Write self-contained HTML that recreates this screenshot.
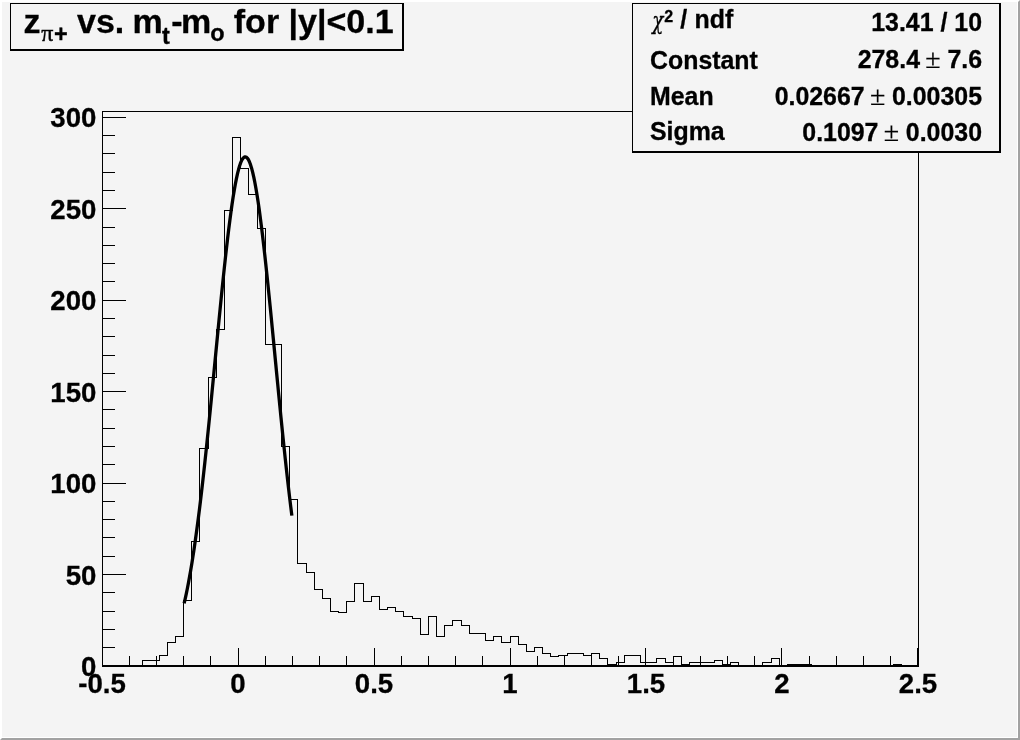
<!DOCTYPE html>
<html lang="en">
<head>
<meta charset="utf-8">
<title>z pi+ vs. mt-mo for |y|&lt;0.1</title>
<style>
html,body{margin:0;padding:0;background:#f4f4f4;}
body{width:1020px;height:740px;overflow:hidden;position:relative;}
#canvas{position:absolute;left:0;top:0;width:1020px;height:740px;box-sizing:border-box;background:#f4f4f4;
 border-top:2px solid #fff;border-left:2px solid #fff;border-right:2px solid #a2a2a2;border-bottom:2px solid #a2a2a2;}
#hl-r{position:absolute;left:1017px;top:2px;width:1px;height:736px;background:#fff;}
#hl-b{position:absolute;left:2px;top:737px;width:1016px;height:1px;background:#fff;}
svg{position:absolute;left:0;top:0;}
text{font-family:"Liberation Sans",sans-serif;font-weight:bold;fill:#000;stroke:#000;stroke-width:0.3px;}
.sym{font-family:"Liberation Serif","DejaVu Serif",serif;font-weight:normal;stroke-width:0.2px;}
</style>
</head>
<body>
<div id="canvas"></div><div id="hl-r"></div><div id="hl-b"></div>
<svg width="1020" height="740" viewBox="0 0 1020 740">
<!-- title box -->
<g shape-rendering="crispEdges" fill="#000">
<rect x="10" y="3" width="394" height="1"/><rect x="10" y="3" width="1" height="48"/>
<rect x="402" y="3" width="2" height="48"/><rect x="10" y="49" width="394" height="2"/>
<!-- frame -->
<rect x="102" y="111" width="817" height="1"/>
<rect x="102" y="111" width="1" height="556"/>
<rect x="918" y="111" width="1" height="556"/>
<rect x="102" y="665" width="817" height="2"/>
<rect x="129" y="656" width="1" height="9"/><rect x="156" y="656" width="1" height="9"/><rect x="183" y="656" width="1" height="9"/><rect x="210" y="656" width="1" height="9"/><rect x="238" y="648" width="1" height="17"/><rect x="265" y="656" width="1" height="9"/><rect x="292" y="656" width="1" height="9"/><rect x="319" y="656" width="1" height="9"/><rect x="346" y="656" width="1" height="9"/><rect x="374" y="648" width="1" height="17"/><rect x="401" y="656" width="1" height="9"/><rect x="428" y="656" width="1" height="9"/><rect x="455" y="656" width="1" height="9"/><rect x="482" y="656" width="1" height="9"/><rect x="510" y="648" width="1" height="17"/><rect x="537" y="656" width="1" height="9"/><rect x="564" y="656" width="1" height="9"/><rect x="591" y="656" width="1" height="9"/><rect x="618" y="656" width="1" height="9"/><rect x="645" y="648" width="1" height="17"/><rect x="673" y="656" width="1" height="9"/><rect x="700" y="656" width="1" height="9"/><rect x="727" y="656" width="1" height="9"/><rect x="754" y="656" width="1" height="9"/><rect x="781" y="648" width="1" height="17"/><rect x="809" y="656" width="1" height="9"/><rect x="836" y="656" width="1" height="9"/><rect x="863" y="656" width="1" height="9"/><rect x="890" y="656" width="1" height="9"/><rect x="917" y="648" width="1" height="17"/><rect x="103" y="647" width="12" height="1"/><rect x="103" y="629" width="12" height="1"/><rect x="103" y="611" width="12" height="1"/><rect x="103" y="592" width="12" height="1"/><rect x="103" y="574" width="23" height="1"/><rect x="103" y="556" width="12" height="1"/><rect x="103" y="537" width="12" height="1"/><rect x="103" y="519" width="12" height="1"/><rect x="103" y="501" width="12" height="1"/><rect x="103" y="483" width="23" height="1"/><rect x="103" y="464" width="12" height="1"/><rect x="103" y="446" width="12" height="1"/><rect x="103" y="428" width="12" height="1"/><rect x="103" y="409" width="12" height="1"/><rect x="103" y="391" width="23" height="1"/><rect x="103" y="373" width="12" height="1"/><rect x="103" y="355" width="12" height="1"/><rect x="103" y="336" width="12" height="1"/><rect x="103" y="318" width="12" height="1"/><rect x="103" y="300" width="23" height="1"/><rect x="103" y="281" width="12" height="1"/><rect x="103" y="263" width="12" height="1"/><rect x="103" y="245" width="12" height="1"/><rect x="103" y="227" width="12" height="1"/><rect x="103" y="208" width="23" height="1"/><rect x="103" y="190" width="12" height="1"/><rect x="103" y="172" width="12" height="1"/><rect x="103" y="153" width="12" height="1"/><rect x="103" y="135" width="12" height="1"/><rect x="103" y="117" width="23" height="1"/>
</g>
<path d="M102.00,666.00 L102.00,666.00 L110.16,666.00 L110.16,666.00 L118.32,666.00 L118.32,666.00 L126.48,666.00 L126.48,666.00 L134.64,666.00 L134.64,666.00 L142.80,666.00 L142.80,660.51 L150.96,660.51 L150.96,660.51 L159.12,660.51 L159.12,655.03 L167.28,655.03 L167.28,642.22 L175.44,642.22 L175.44,636.74 L183.60,636.74 L183.60,600.16 L191.76,600.16 L191.76,541.63 L199.92,541.63 L199.92,448.35 L208.08,448.35 L208.08,377.02 L216.24,377.02 L216.24,329.47 L224.40,329.47 L224.40,210.59 L232.56,210.59 L232.56,137.43 L240.72,137.43 L240.72,168.52 L248.88,168.52 L248.88,194.13 L257.04,194.13 L257.04,228.88 L265.20,228.88 L265.20,344.10 L273.36,344.10 L273.36,344.10 L281.52,344.10 L281.52,446.52 L289.68,446.52 L289.68,499.56 L297.84,499.56 L297.84,563.58 L306.00,563.58 L306.00,572.72 L314.16,572.72 L314.16,589.18 L322.32,589.18 L322.32,598.33 L330.48,598.33 L330.48,611.13 L338.64,611.13 L338.64,612.96 L346.80,612.96 L346.80,601.99 L354.96,601.99 L354.96,583.70 L363.12,583.70 L363.12,601.99 L371.28,601.99 L371.28,596.50 L379.44,596.50 L379.44,609.30 L387.60,609.30 L387.60,607.47 L395.76,607.47 L395.76,611.13 L403.92,611.13 L403.92,616.62 L412.08,616.62 L412.08,618.45 L420.24,618.45 L420.24,634.91 L428.40,634.91 L428.40,616.62 L436.56,616.62 L436.56,636.74 L444.72,636.74 L444.72,625.76 L452.88,625.76 L452.88,620.28 L461.04,620.28 L461.04,625.76 L469.20,625.76 L469.20,633.08 L477.36,633.08 L477.36,633.08 L485.52,633.08 L485.52,640.39 L493.68,640.39 L493.68,636.74 L501.84,636.74 L501.84,642.22 L510.00,642.22 L510.00,636.74 L518.16,636.74 L518.16,644.05 L526.32,644.05 L526.32,651.37 L534.48,651.37 L534.48,647.71 L542.64,647.71 L542.64,653.20 L550.80,653.20 L550.80,656.86 L558.96,656.86 L558.96,655.03 L567.12,655.03 L567.12,653.20 L575.28,653.20 L575.28,653.20 L583.44,653.20 L583.44,655.03 L591.60,655.03 L591.60,653.20 L599.76,653.20 L599.76,658.68 L607.92,658.68 L607.92,664.17 L616.08,664.17 L616.08,662.34 L624.24,662.34 L624.24,655.03 L632.40,655.03 L632.40,655.03 L640.56,655.03 L640.56,662.34 L648.72,662.34 L648.72,662.34 L656.88,662.34 L656.88,658.68 L665.04,658.68 L665.04,662.34 L673.20,662.34 L673.20,656.86 L681.36,656.86 L681.36,664.17 L689.52,664.17 L689.52,662.34 L697.68,662.34 L697.68,662.34 L705.84,662.34 L705.84,662.34 L714.00,662.34 L714.00,660.51 L722.16,660.51 L722.16,664.17 L730.32,664.17 L730.32,662.34 L738.48,662.34 L738.48,666.00 L746.64,666.00 L746.64,666.00 L754.80,666.00 L754.80,666.00 L762.96,666.00 L762.96,662.34 L771.12,662.34 L771.12,658.68 L779.28,658.68 L779.28,666.00 L787.44,666.00 L787.44,664.17 L795.60,664.17 L795.60,664.17 L803.76,664.17 L803.76,664.17 L811.92,664.17 L811.92,666.00 L820.08,666.00 L820.08,666.00 L828.24,666.00 L828.24,666.00 L836.40,666.00 L836.40,666.00 L844.56,666.00 L844.56,666.00 L852.72,666.00 L852.72,666.00 L860.88,666.00 L860.88,666.00 L869.04,666.00 L869.04,666.00 L877.20,666.00 L877.20,666.00 L885.36,666.00 L885.36,666.00 L893.52,666.00 L893.52,664.17 L901.68,664.17 L901.68,666.00 L909.84,666.00 L909.84,666.00 L918.00,666.00 L918.00,666.00" fill="none" stroke="#000" stroke-width="1" shape-rendering="crispEdges"/>
<g shape-rendering="crispEdges" fill="#000">
<!-- stats box -->
<rect x="632" y="3" width="369" height="150" fill="#f4f4f4"/>
<rect x="632" y="3" width="369" height="1"/><rect x="632" y="3" width="1" height="150"/>
<rect x="999" y="3" width="2" height="150"/><rect x="632" y="151" width="369" height="2"/>
</g>
<path d="M184.14,603.47 L185.23,598.67 L186.32,593.60 L187.41,588.24 L188.50,582.60 L189.58,576.67 L190.67,570.44 L191.76,563.92 L192.85,557.10 L193.94,549.97 L195.02,542.54 L196.11,534.82 L197.20,526.79 L198.29,518.47 L199.38,509.86 L200.46,500.96 L201.55,491.79 L202.64,482.36 L203.73,472.67 L204.82,462.74 L205.90,452.59 L206.99,442.22 L208.08,431.67 L209.17,420.94 L210.26,410.06 L211.34,399.06 L212.43,387.95 L213.52,376.76 L214.61,365.52 L215.70,354.26 L216.78,343.01 L217.87,331.80 L218.96,320.66 L220.05,309.62 L221.14,298.71 L222.22,287.98 L223.31,277.45 L224.40,267.15 L225.49,257.13 L226.58,247.41 L227.66,238.03 L228.75,229.03 L229.84,220.42 L230.93,212.25 L232.02,204.54 L233.10,197.33 L234.19,190.63 L235.28,184.48 L236.37,178.90 L237.46,173.91 L238.54,169.53 L239.63,165.77 L240.72,162.66 L241.81,160.20 L242.90,158.40 L243.98,157.28 L245.07,156.83 L246.16,157.05 L247.25,157.95 L248.34,159.52 L249.42,161.76 L250.51,164.66 L251.60,168.20 L252.69,172.37 L253.78,177.16 L254.86,182.55 L255.95,188.51 L257.04,195.03 L258.13,202.07 L259.22,209.61 L260.30,217.63 L261.39,226.10 L262.48,234.97 L263.57,244.23 L264.66,253.84 L265.74,263.76 L266.83,273.97 L267.92,284.43 L269.01,295.10 L270.10,305.95 L271.18,316.95 L272.27,328.06 L273.36,339.25 L274.45,350.49 L275.54,361.75 L276.62,373.00 L277.71,384.21 L278.80,395.35 L279.89,406.39 L280.98,417.31 L282.06,428.09 L283.15,438.71 L284.24,449.14 L285.33,459.37 L286.42,469.37 L287.50,479.14 L288.59,488.66 L289.68,497.92 L290.77,506.91 L291.86,515.62" fill="none" stroke="#000" stroke-width="3.3" stroke-linejoin="round" stroke-linecap="butt"/>
<g font-size="27.6"><text x="102.0" y="693" text-anchor="middle">-0.5</text><text x="238.0" y="693" text-anchor="middle">0</text><text x="374.0" y="693" text-anchor="middle">0.5</text><text x="510.0" y="693" text-anchor="middle">1</text><text x="646.0" y="693" text-anchor="middle">1.5</text><text x="782.0" y="693" text-anchor="middle">2</text><text x="918.0" y="693" text-anchor="middle">2.5</text><text x="96.4" y="675.9" text-anchor="end">0</text><text x="96.4" y="584.5" text-anchor="end">50</text><text x="96.4" y="493.0" text-anchor="end">100</text><text x="96.4" y="401.6" text-anchor="end">150</text><text x="96.4" y="310.1" text-anchor="end">200</text><text x="96.4" y="218.7" text-anchor="end">250</text><text x="96.4" y="127.2" text-anchor="end">300</text></g>
<!-- title -->
<text font-size="34" y="32.8"><tspan x="23.4">z</tspan><tspan class="sym" font-size="24" x="41.3" y="41" style="stroke-width:0.45px">π</tspan><tspan font-size="23.5" x="54" y="41.6">+</tspan><tspan x="77" y="32.8">vs.</tspan><tspan x="132.4" y="32.8">m</tspan><tspan font-size="23.5" x="162" y="43.6">t</tspan><tspan x="171.2" y="32.8">-</tspan><tspan x="181" y="32.8">m</tspan><tspan font-size="23.5" x="210.3" y="40.8">o</tspan><tspan x="233.8" y="32.8" font-size="34">for |y|&lt;0.1</tspan></text>
<!-- stats -->
<g font-size="24.9">
<text transform="translate(652.2,28.5) scale(0.8,1.035)" style="font-family:'DejaVu Serif',serif;font-style:italic;font-weight:normal;font-size:23px">χ</text>
<text y="28.3"><tspan font-size="16" x="664.2" y="21.8">2</tspan><tspan x="680.3" y="28.3">/</tspan><tspan x="694.5" y="28.3">ndf</tspan></text>
<text x="982" y="31.3" text-anchor="end">13.41 / 10</text>
<text x="650" y="68.5">Constant</text>
<text x="982" y="68" text-anchor="end">278.4 <tspan class="sym" font-size="28" dx="-1.6" stroke="#000" stroke-width="0.25">±</tspan><tspan dx="-0.2"> </tspan>7.6</text>
<text x="650" y="104.8">Mean</text>
<text x="982" y="104.5" text-anchor="end">0.02667 <tspan class="sym" font-size="28" dx="-1.6" stroke="#000" stroke-width="0.25">±</tspan><tspan dx="-0.2"> </tspan>0.00305</text>
<text x="650" y="140">Sigma</text>
<text x="982" y="141" text-anchor="end">0.1097 <tspan class="sym" font-size="28" dx="-1.6" stroke="#000" stroke-width="0.25">±</tspan><tspan dx="-0.2"> </tspan>0.0030</text>
</g>
</svg>
</body>
</html>
